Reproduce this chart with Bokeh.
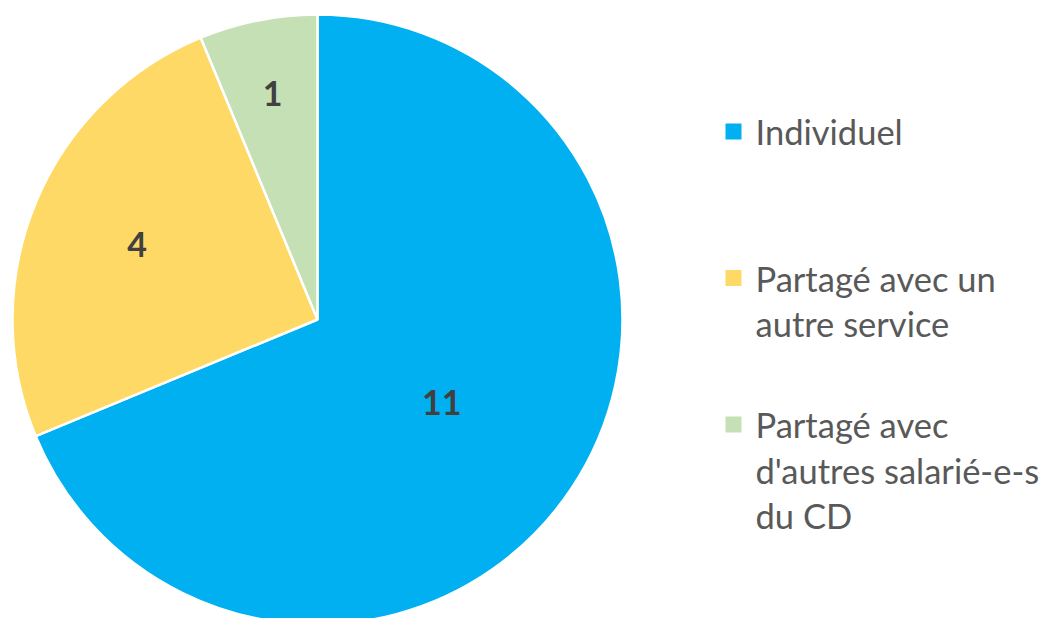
import math
from bokeh.plotting import figure
from bokeh.models import Range1d, ColumnDataSource
from bokeh.core.properties import value
from bokeh.embed import file_html
from bokeh.resources import INLINE

# ---- data ----
categories = ["Individuel", "Partagé avec un\nautre service", "Partagé avec\nd'autres salarié-e-s\ndu CD"]
values = [11, 4, 1]
colors = ["#00B0F0", "#FFD966", "#C5E0B4"]
label_radius_frac = [0.49, 0.64, 0.755]

W, H = 1042, 618
cx, cy_screen, R = 317, 319, 305
cy = H - cy_screen

p = figure(width=W, height=H, output_backend="svg", toolbar_location=None,
           x_range=Range1d(0, W), y_range=Range1d(0, H), min_border=0)
p.axis.visible = False
p.grid.visible = False
p.outline_line_color = None
p.background_fill_color = "white"

total = sum(values)
starts, ends, lx, ly, ltxt = [], [], [], [], []
a = math.pi / 2
for v, f in zip(values, label_radius_frac):
    span = 2 * math.pi * v / total
    starts.append(a)
    ends.append(a - span)
    mid = a - span / 2
    lx.append(cx + f * R * math.cos(mid))
    ly.append(cy + f * R * math.sin(mid))
    ltxt.append(str(v))
    a -= span

src = ColumnDataSource(dict(start=starts, end=ends, color=colors))
p.wedge(x=cx, y=cy, radius=R, start_angle="start", end_angle="end", direction="clock",
        fill_color="color", line_color="white", line_width=2.5, source=src)

p.text(x=lx, y=ly, text=ltxt, text_font=value("Lato"), text_font_style="bold",
       text_font_size="34px", text_color="#404040", text_align="center", text_baseline="middle")

# legend
leg_x_sq, leg_x_txt = 733, 755
leg_y0 = 131
step = 146.5
line_h = 45.5
sq_x, sq_y, tx, ty, tt = [], [], [], [], []
for i, (cat, col) in enumerate(zip(categories, colors)):
    ys = leg_y0 + i * step
    sq_x.append(leg_x_sq)
    sq_y.append(H - ys)
    for j, line in enumerate(cat.split("\n")):
        tx.append(leg_x_txt)
        ty.append(H - (ys + j * line_h))
        tt.append(line)

p.rect(x=sq_x, y=sq_y, width=16, height=16, fill_color=colors, line_color=None)
p.text(x=tx, y=ty, text=tt, text_font=value("Lato"), text_font_size="34.5px",
       text_color="#595959", text_align="left", text_baseline="middle")

open("out.html", "w").write(file_html(p, INLINE))
